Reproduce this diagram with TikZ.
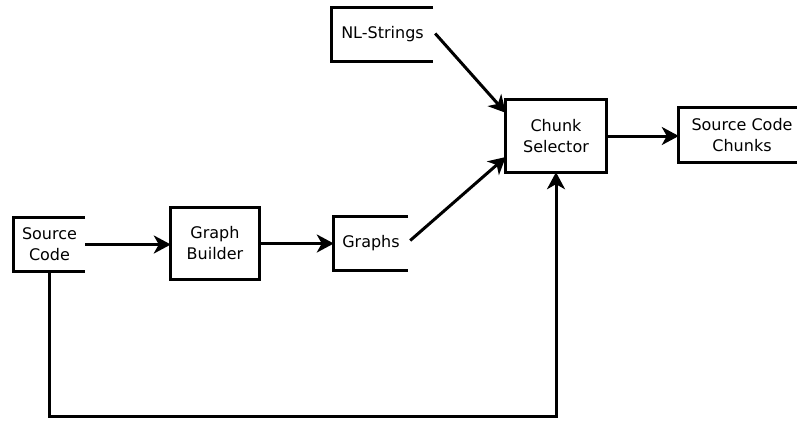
\documentclass[tikz,border=0pt]{standalone}
\usepackage{fontspec}
\setmainfont{DejaVu Sans}
\usetikzlibrary{arrows.meta,calc}
\begin{document}
\begin{tikzpicture}[x=1pt,y=-1pt,
  lbl/.style={inner sep=0pt,align=center,font=\fontsize{16}{21}\selectfont},
  boxed/.style={lbl},
  link/.style={line width=3pt,-{Stealth[length=17pt,width=18pt,inset=5pt]}},
  edge/.style={line width=3pt}]
\useasboundingbox (0,0) rectangle (797,421);
% data stores (open on the right)
\node[lbl,minimum width=71pt,minimum height=53pt] (sc) at (49.5,244.5) {Source\\Code};
\node[lbl,minimum width=74pt,minimum height=53pt] (gr) at (371,243.5) {Graphs};
\node[lbl,minimum width=101pt,minimum height=53pt] (nl) at (382.5,34.5) {NL-Strings};
\node[lbl,minimum width=126pt,minimum height=54pt] (scc) at (742,135) {Source Code\\Chunks};
\draw[edge] (sc.north east) -- (sc.north west) -- (sc.south west) -- (sc.south east);
\draw[edge] (gr.north east) -- (gr.north west) -- (gr.south west) -- (gr.south east);
\draw[edge] (nl.north east) -- (nl.north west) -- (nl.south west) -- (nl.south east);
\draw[edge] ($(scc.north west)+(118,0)$) -- (scc.north west) -- (scc.south west) -- ($(scc.south west)+(118,0)$);
% processes
\node[boxed,minimum width=88pt,minimum height=72pt] (gb) at (215,243.5) {Graph\\Builder};
\node[boxed,minimum width=100pt,minimum height=72pt] (cs) at (556,136) {Chunk\\Selector};
\draw[edge] (gb.north west) rectangle (gb.south east);
\draw[edge] (cs.north west) rectangle (cs.south east);
% connectors
\draw[link] (sc.east) -- (sc.east -| gb.west);
\draw[link] (gb.east) -- (gb.east -| gr.west);
\draw[link] ($(nl.east)+(2,-1)$) -- ($(cs.north west)!0.18!(cs.south west)$);
\draw[link] ($(gr.east)+(2,-3)$) -- ($(cs.north west)!0.79!(cs.south west)$);
\draw[link] (cs.east) -- (cs.east -| scc.west);
\draw[link] (sc.south) -- ++(0,145) -| (cs.south);
\end{tikzpicture}
\end{document}
